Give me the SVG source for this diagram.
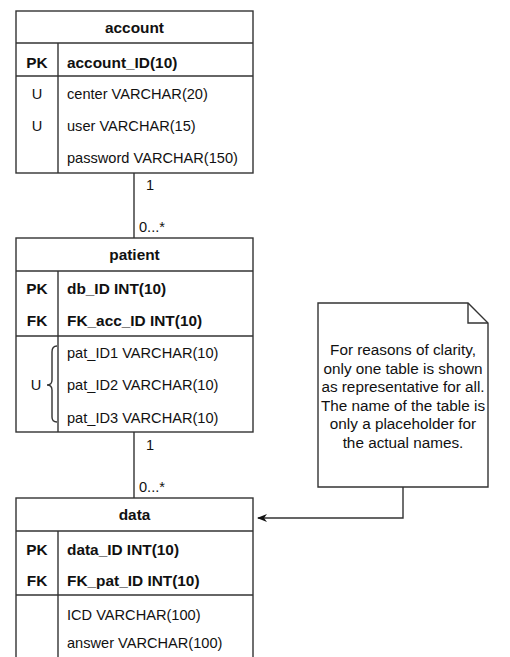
<svg xmlns="http://www.w3.org/2000/svg" width="510" height="657" viewBox="0 0 510 657">
<defs>
<style>
.box{fill:#fff;stroke:#333;stroke-width:1.4}
.ln{fill:none;stroke:#333;stroke-width:1.4}
text{font-family:"Liberation Sans",Arial,sans-serif;font-size:14.6px;fill:#111}
.h{font-weight:bold;text-anchor:middle;font-size:15.4px}
.b{font-weight:bold;font-size:15.4px}
.k{text-anchor:middle}
.kb{text-anchor:middle;font-weight:bold;font-size:15.4px}
.n{text-anchor:middle;font-size:15.3px}
</style>
<marker id="arr" viewBox="0 0 10 10" refX="9" refY="5" markerWidth="10" markerHeight="10" markerUnits="userSpaceOnUse" orient="auto">
<path d="M0,1 L10,5 L0,9 L3,5 Z" fill="#111"/>
</marker>
</defs>
<rect width="510" height="657" fill="#fff"/>
<g id="connectors">
<line class="ln" x1="134" y1="173" x2="134" y2="238"/>
<text x="146" y="190">1</text>
<text x="139" y="232">0...*</text>
<line class="ln" x1="134" y1="432" x2="134" y2="498"/>
<text x="146" y="450">1</text>
<text x="139" y="492">0...*</text>
<path class="ln" d="M403,487 V518 H258" marker-end="url(#arr)"/>
</g>
<g id="account">
<rect class="box" x="16" y="11" width="237" height="162"/>
<line class="ln" x1="16" y1="43" x2="253" y2="43"/>
<line class="ln" x1="16" y1="76" x2="253" y2="76"/>
<line class="ln" x1="58" y1="43" x2="58" y2="173"/>
<text class="h" x="134.5" y="33">account</text>
<text class="kb" x="37" y="68">PK</text>
<text class="b" x="67" y="68">account_ID(10)</text>
<text class="k" x="37" y="99">U</text>
<text x="67" y="99">center VARCHAR(20)</text>
<text class="k" x="37" y="131">U</text>
<text x="67" y="131">user VARCHAR(15)</text>
<text x="67" y="163">password VARCHAR(150)</text>
</g>
<g id="patient">
<rect class="box" x="16" y="238" width="237" height="194"/>
<line class="ln" x1="16" y1="271" x2="253" y2="271"/>
<line class="ln" x1="16" y1="336" x2="253" y2="336"/>
<line class="ln" x1="58" y1="271" x2="58" y2="432"/>
<text class="h" x="134.5" y="260">patient</text>
<text class="kb" x="37" y="294">PK</text>
<text class="b" x="67" y="294">db_ID INT(10)</text>
<text class="kb" x="37" y="326">FK</text>
<text class="b" x="67" y="326">FK_acc_ID INT(10)</text>
<text class="k" x="36" y="390">U</text>
<path class="ln" d="M57,346 Q52,346 52,352 V380 Q52,385 47,385 Q52,385 52,390 V417 Q52,422 57,422" stroke-width="1"/>
<text x="67" y="358">pat_ID1 VARCHAR(10)</text>
<text x="67" y="390">pat_ID2 VARCHAR(10)</text>
<text x="67" y="423">pat_ID3 VARCHAR(10)</text>
</g>
<g id="data">
<rect class="box" x="16" y="498" width="237" height="170"/>
<line class="ln" x1="16" y1="531" x2="253" y2="531"/>
<line class="ln" x1="16" y1="595" x2="253" y2="595"/>
<line class="ln" x1="58" y1="531" x2="58" y2="668"/>
<text class="h" x="134.5" y="520">data</text>
<text class="kb" x="37" y="555">PK</text>
<text class="b" x="67" y="555">data_ID INT(10)</text>
<text class="kb" x="37" y="586">FK</text>
<text class="b" x="67" y="586">FK_pat_ID INT(10)</text>
<text x="67" y="620">ICD VARCHAR(100)</text>
<text x="67" y="648">answer VARCHAR(100)</text>
</g>
<g id="note">
<path class="box" d="M318,303 H468 L488,323 V487 H318 Z"/>
<path class="ln" d="M468,303 V323 H488"/>
<text class="n" x="403" y="355">For reasons of clarity,</text>
<text class="n" x="403" y="374">only one table is shown</text>
<text class="n" x="403" y="392">as representative for all.</text>
<text class="n" x="403" y="411">The name of the table is</text>
<text class="n" x="403" y="429">only a placeholder for</text>
<text class="n" x="403" y="448">the actual names.</text>
</g>
</svg>
